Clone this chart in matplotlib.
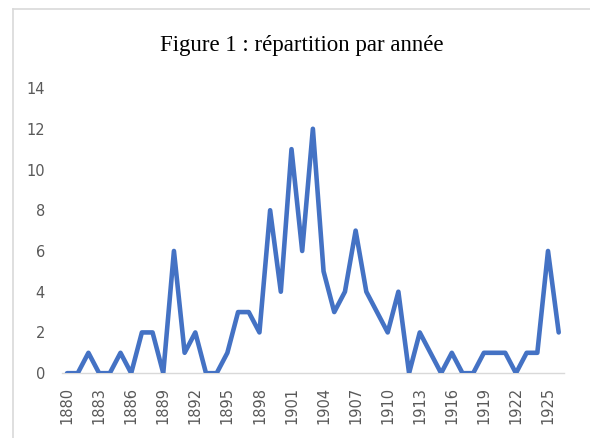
import matplotlib
matplotlib.use('Agg')
import matplotlib.pyplot as plt
from matplotlib.lines import Line2D

# yearly counts
years = list(range(1880, 1927))
counts = [0, 0, 1, 0, 0, 1, 0, 2, 2, 0,
          6, 1, 2, 0, 0, 1, 3, 3, 2, 8,
          4, 11, 6, 12, 5, 3, 4, 7, 4, 3,
          2, 4, 0, 2, 1, 0, 1, 0, 0, 1,
          1, 1, 0, 1, 1, 6, 2]
title = 'Figure 1 : répartition par année'

fig = plt.figure(figsize=(5.9, 4.38), dpi=100)
ax = fig.add_axes([0.1046, 0.148, 0.8514, 0.651])

x = list(range(len(years)))
ax.plot(x, counts, color='#4472C4', linewidth=3.3,
        solid_joinstyle='round', solid_capstyle='round')

ax.set_xlim(-0.5, len(years) - 0.5)
ax.set_ylim(0, 14)
ax.set_yticks(range(0, 15, 2))
ax.set_xticks(x[::3])
ax.set_xticklabels([str(y) for y in years[::3]], rotation=90)

for s in ['top', 'right', 'left']:
    ax.spines[s].set_visible(False)
ax.spines['bottom'].set_color('#D9D9D9')
ax.spines['bottom'].set_linewidth(1)
ax.spines['bottom'].set_zorder(0)
ax.tick_params(axis='both', length=0, colors='#595959', labelsize=10.5)
ax.tick_params(axis='y', pad=12)
ax.tick_params(axis='x', pad=10)

fig.text(0.512, 0.896, title, ha='center', va='center',
         fontsize=16.5, family='Liberation Serif', color='black')

# light frame around the chart (cut off at right and bottom)
fig.add_artist(Line2D([13/590, 13/590], [0, 1 - 9/438], transform=fig.transFigure,
                      color='#D9D9D9', linewidth=1.2))
fig.add_artist(Line2D([13/590, 1], [1 - 9/438, 1 - 9/438], transform=fig.transFigure,
                      color='#D9D9D9', linewidth=1.2))

fig.savefig('out.png', dpi=100)
